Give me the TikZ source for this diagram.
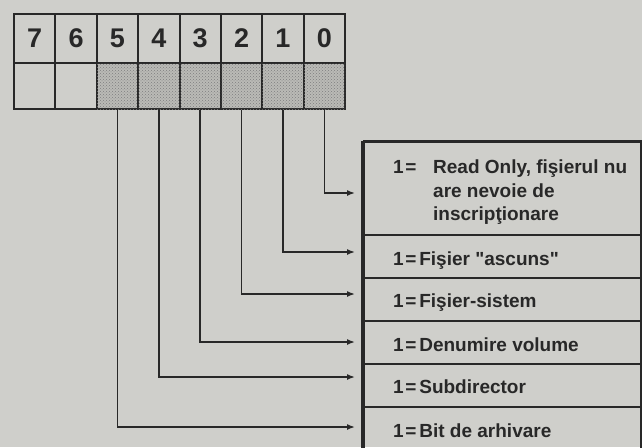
\documentclass[tikz,border=0pt]{standalone}
\usepackage{fontspec}
\setmainfont{Liberation Sans}
\newfontfamily\plainsans{Liberation Sans}
\usetikzlibrary{arrows.meta,calc,patterns}
\definecolor{paper}{RGB}{207,207,203}
\definecolor{ink}{RGB}{40,40,40}
\definecolor{shade}{RGB}{186,186,182}
\newcommand{\eqsign}{1\hspace{1.5pt}=\hspace{3pt}}
\begin{document}
\begin{tikzpicture}[x=1pt,y=-1pt,line join=miter,
  digitcell/.style={draw=ink,line width=2pt,minimum width=41.375pt,minimum height=49pt,
    inner sep=0pt,anchor=north west,text=ink,font=\bfseries\fontsize{27}{27}\selectfont},
  bitcell/.style={draw=ink,line width=2pt,minimum width=41.375pt,minimum height=46pt,
    inner sep=0pt,anchor=north west},
  rowbox/.style={draw=ink,line width=2pt,minimum width=277pt,inner sep=0pt,anchor=north west},
  lbl/.style={anchor=base west,inner sep=0pt,text=ink,font=\plainsans\bfseries\fontsize{19}{19}\selectfont},
  link/.style={draw=ink,line width=1.5pt,-{Latex[length=8pt,width=6pt]}}]
\fill[paper] (0,0) rectangle (642,447);
\useasboundingbox (0,0) rectangle (642,447);
% bit table
\foreach \i in {0,...,7}{
  \pgfmathtruncatemacro{\b}{7-\i}
  \node[digitcell] (d\b) at ({13+\i*41.375},13) {\raisebox{-3pt}{\b}};
}
\node[bitcell] (b7) at (13,62) {};
\node[bitcell] (b6) at (54.375,62) {};
\foreach \i in {2,...,7}{
  \pgfmathtruncatemacro{\b}{7-\i}
  \node[bitcell,fill=shade,postaction={pattern=crosshatch dots,pattern color=ink!60}] (b\b) at ({13+\i*41.375},62) {};
}
% description boxes
\node[rowbox,minimum height=93pt] (r0) at (363,141) {};
\node[rowbox,minimum height=43pt] (r1) at (363,234) {};
\node[rowbox,minimum height=43pt] (r2) at (363,277) {};
\node[rowbox,minimum height=43pt] (r3) at (363,320) {};
\node[rowbox,minimum height=43pt] (r4) at (363,363) {};
\node[rowbox,minimum height=46pt] (r5) at (363,406) {};
\draw[ink,line width=4pt] (r0.north west) -- (r5.south west);
\draw[ink,line width=2.6pt] (r0.north west) -- (r0.north east);
% texts
\node[lbl] (t0a) at (393,173) {\makebox[40pt][l]{1\hspace{1.5pt}=}Read Only, fişierul nu};
\node[lbl] (t0b) at (433,197) {are nevoie de};
\node[lbl] (t0c) at (433,220) {inscripţionare};
\node[lbl] (t1) at (393,265) {\eqsign Fişier "ascuns"};
\node[lbl] (t2) at (393,307) {\eqsign Fişier-sistem};
\node[lbl] (t3) at (393,351) {\eqsign Denumire volume};
\node[lbl] (t4) at (393,393) {\eqsign Subdirector};
\node[lbl] (t5) at (393,437) {\eqsign Bit de arhivare};
% arrow targets
\coordinate (a0) at (355,193);
\coordinate (a1) at (355,252);
\coordinate (a2) at (355,294);
\coordinate (a3) at (355,342);
\coordinate (a4) at (355,377);
\coordinate (a5) at (355,427);
\foreach \k in {0,...,5}{
  \draw[link] (b\k.south) |- (a\k);
}
\end{tikzpicture}
\end{document}
